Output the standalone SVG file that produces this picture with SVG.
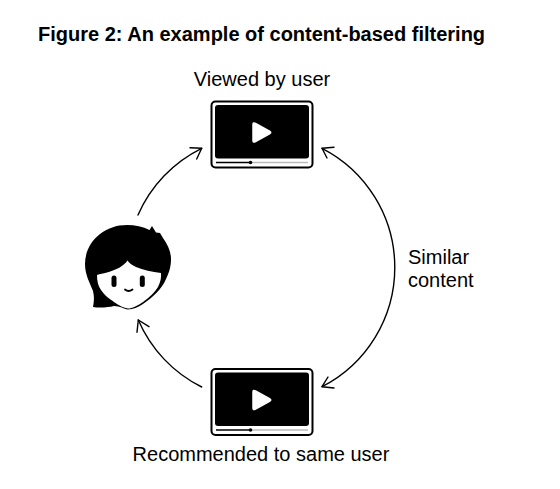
<svg xmlns="http://www.w3.org/2000/svg" width="560" height="489" viewBox="0 0 560 489">
<style>
text{font-family:"Liberation Sans",Arial,sans-serif;fill:#000}
.l{font-size:20px}
.c{fill:none;stroke:#000;stroke-width:1.4;stroke-linecap:round;stroke-linejoin:round}
</style>
<defs>
<g id="video">
<rect x="211.500" y="1.500" width="101" height="66" rx="4" fill="#fff" stroke="#000" stroke-width="2"/>
<rect x="215" y="5" width="94" height="53.500" rx="3" fill="#000"/>
<path d="M253 24.500Q253 22 255.500 23.400L270 31.500Q271.500 32.500 270 33.500L255.500 41.600Q253 43 253 40.500Z" fill="#fff" stroke="#fff" stroke-width="1.500" stroke-linejoin="round"/>
<line x1="250" y1="62.500" x2="308" y2="62.500" stroke="#bbb" stroke-width="1.500"/>
<line x1="216" y1="62.500" x2="250" y2="62.500" stroke="#000" stroke-width="1.500"/>
<circle cx="250.500" cy="62.500" r="1.800" fill="#000"/>
</g>
</defs>
<text x="38" y="41" font-size="20" font-weight="700">Figure 2: An example of content-based filtering</text>
<text class="l" x="262" y="86" text-anchor="middle">Viewed by user</text>
<text class="l" x="261" y="461" text-anchor="middle">Recommended to same user</text>
<text class="l" x="408" y="263.500">Similar</text>
<text class="l" x="408" y="286.500">content</text>
<g id="connectors">
<path class="c" d="M138 215A134 134 0 0 1 201.700 148.300"/>
<path class="c" d="M190 147.700L201.700 148.300L196.700 159"/>
<path class="c" d="M322 386.700A134 134 0 0 0 322 148.300"/>
<path class="c" d="M334 147.300L322 148.300L327 158"/>
<path class="c" d="M328 377L322 386.700L334 388"/>
<path class="c" d="M201.700 387A134 134 0 0 1 138.300 320"/>
<path class="c" d="M137 332.300L138.300 320L149 326.700"/>
</g>
<g id="video-top"><use href="#video" y="100"/></g>
<g id="video-bottom"><use href="#video" y="367.500"/></g>
<g id="user">
<path d="M127 225C103 225 85 243 85 264C85 275 90 283 93 291C94.500 297 94 302 93 307C100 308 108 307.500 114 306C120 306 124 309 128 309.500C133 309.500 138 307 143 304C152 298 162 289 166 279C170 271 171 265 171 259C171 252 168 245 163 238L160 233L156 232.500L152 226L149.500 230C143 226.500 135 225 127 225Z" fill="#000"/>
<path d="M127.500 260.500C124 266 116 270 107 272.500C103 273.500 100 274 97 275C97 281 98 286 101 290C105 296 110 299 114 302C119 305.500 124 308 128 308.500C132 308.500 137 306 143 302C150 297 155 292 158 287C160.500 282 161.500 277 161 273C152 272 143 270 136 267C132 265 129 263 127.500 260.500Z" fill="#fff"/>
<rect x="111.500" y="275.500" width="5" height="11.500" rx="2.500" fill="#000"/>
<rect x="139.800" y="275.500" width="5" height="11.500" rx="2.500" fill="#000"/>
<path d="M125 289.500Q128.500 292.500 132.500 289.500" fill="none" stroke="#000" stroke-width="1.800" stroke-linecap="round"/>
</g>
</svg>
